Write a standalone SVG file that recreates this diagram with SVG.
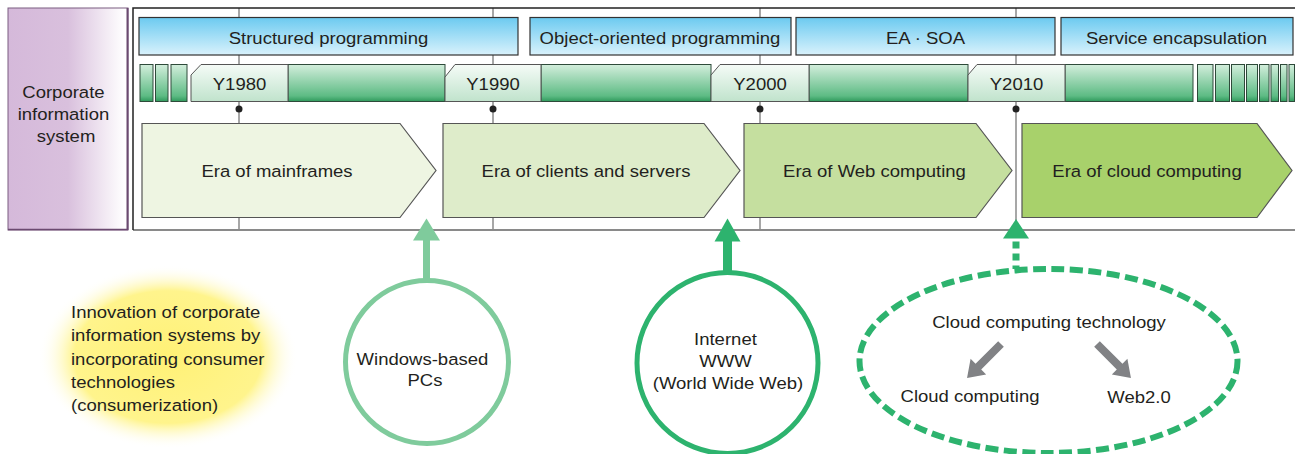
<svg xmlns="http://www.w3.org/2000/svg" width="1295" height="454" viewBox="0 0 1295 454">
  <defs>
    <linearGradient id="gPurple" x1="0" y1="0" x2="1" y2="0">
      <stop offset="0" stop-color="#d5b9da"/>
      <stop offset="0.5" stop-color="#d9c0dd"/>
      <stop offset="0.97" stop-color="#ffffff"/>
    </linearGradient>
    <linearGradient id="gBlue" x1="0" y1="0" x2="0" y2="1">
      <stop offset="0" stop-color="#6ccaf0"/>
      <stop offset="1" stop-color="#d9f2fc"/>
    </linearGradient>
    <linearGradient id="gBar" x1="0" y1="0" x2="0" y2="1">
      <stop offset="0" stop-color="#d3eedc"/>
      <stop offset="0.85" stop-color="#5dbb84"/>
      <stop offset="1" stop-color="#2f9a5c"/>
    </linearGradient>
    <linearGradient id="gTag" x1="0" y1="0" x2="0" y2="1">
      <stop offset="0" stop-color="#f5fbf7"/>
      <stop offset="1" stop-color="#c0e3cc"/>
    </linearGradient>
    <radialGradient id="gGlow" cx="0.5" cy="0.5" r="0.5">
      <stop offset="0" stop-color="#fff176"/>
      <stop offset="0.72" stop-color="#fff48c"/>
      <stop offset="1" stop-color="#ffffff" stop-opacity="0"/>
    </radialGradient>
  </defs>
  <style>
    .t { font-family: "Liberation Sans", Arial, Helvetica, sans-serif; font-size: 17px; fill: #231f20; }
    .mid { text-anchor: middle; }
    .frameTop { stroke: #222; stroke-width: 1.5; fill: none; }
    .yr { stroke: #8a8a8a; stroke-width: 1.5; }
    .blue { fill: url(#gBlue); stroke: #333; stroke-width: 1.2; }
    .seg { fill: url(#gBar); stroke: #2e4a3a; stroke-width: 1; }
    .tag { fill: url(#gTag); stroke: #555; stroke-width: 1; }
    .era { stroke: #555; stroke-width: 1.2; }
    .dot { fill: #222; }
    .grayArrow { fill: #818285; }
  </style>

  <rect width="1295" height="454" fill="#ffffff"/>

  <!-- side label -->
  <g id="side-label">
    <rect x="8" y="8" width="120" height="222" fill="url(#gPurple)" stroke="#7a5d80" stroke-width="1"/>
    <line x1="127.5" y1="8" x2="127.5" y2="230" stroke="#6b4a70" stroke-width="2"/>
    <line x1="8" y1="229.5" x2="128" y2="229.5" stroke="#6b4a70" stroke-width="1.5"/>
    <text class="t mid" transform="translate(66 0) scale(1.09 1)">
      <tspan x="0" y="98">Corporate</tspan>
      <tspan x="0" y="120">information</tspan>
      <tspan x="0" y="142">system</tspan>
    </text>
  </g>

  <!-- timeline frame and year guide lines -->
  <g id="frame">
    <line x1="760" y1="8" x2="760" y2="230" class="yr"/>
    <line x1="239" y1="8" x2="239" y2="230" class="yr"/>
    <line x1="493" y1="8" x2="493" y2="230" class="yr"/>
    <line x1="1016" y1="8" x2="1016" y2="230" class="yr" stroke-width="2"/>
    <line x1="133" y1="230" x2="1295" y2="230" stroke="#8a8a8a" stroke-width="2"/>
    <polyline points="133,230 133,8 1295,8" class="frameTop"/>
  </g>

  <!-- programming paradigm bars -->
  <g id="paradigm-structured">
    <rect x="139" y="17.5" width="379" height="37.5" class="blue"/>
    <text class="t mid" transform="translate(328.5 44) scale(1.09 1)">Structured programming</text>
  </g>
  <g id="paradigm-oop">
    <rect x="530" y="17.5" width="261" height="37.5" class="blue"/>
    <text class="t mid" transform="translate(660 44) scale(1.09 1)">Object-oriented programming</text>
  </g>
  <g id="paradigm-ea-soa">
    <rect x="796" y="17.5" width="259" height="37.5" class="blue"/>
    <text class="t mid" transform="translate(925.5 44) scale(1.09 1)">EA · SOA</text>
  </g>
  <g id="paradigm-service">
    <rect x="1061" y="17.5" width="232" height="37.5" class="blue"/>
    <text class="t mid" transform="translate(1176.5 44) scale(1.09 1)">Service encapsulation</text>
  </g>

  <!-- green year bar -->
  <g id="year-bar">
    <rect x="140" y="64.5" width="13" height="37" class="seg"/>
    <rect x="155.5" y="64.5" width="12.5" height="37" class="seg"/>
    <rect x="171" y="64.5" width="16" height="37" class="seg"/>
    <rect x="288" y="64.5" width="157" height="37" class="seg"/>
    <rect x="541" y="64.5" width="170" height="37" class="seg"/>
    <rect x="809" y="64.5" width="159" height="37" class="seg"/>
    <rect x="1065" y="64.5" width="128" height="37" class="seg"/>
    <rect x="1197.5" y="64.5" width="15.5" height="37" class="seg"/>
    <rect x="1215.5" y="64.5" width="14" height="37" class="seg"/>
    <rect x="1231.5" y="64.5" width="13" height="37" class="seg"/>
    <rect x="1246.5" y="64.5" width="11" height="37" class="seg"/>
    <rect x="1259.5" y="64.5" width="9.5" height="37" class="seg"/>
    <rect x="1271" y="64.5" width="7.5" height="37" class="seg"/>
    <rect x="1280.5" y="64.5" width="6.5" height="37" class="seg"/>
    <rect x="1289" y="64.5" width="5.5" height="37" class="seg"/>
  </g>

  <g id="year-1980">
    <polygon points="191,75 201,64.5 288,64.5 288,101.5 191,101.5" class="tag"/>
    <text class="t mid" transform="translate(239.5 89.5) scale(1.09 1)">Y1980</text>
    <circle cx="239" cy="109" r="3.5" class="dot"/>
  </g>
  <g id="year-1990">
    <polygon points="445,77 455,64.5 541,64.5 541,101.5 445,101.5" class="tag"/>
    <text class="t mid" transform="translate(493 89.5) scale(1.09 1)">Y1990</text>
    <circle cx="493" cy="109" r="3.5" class="dot"/>
  </g>
  <g id="year-2000">
    <polygon points="711,75 720,64.5 809,64.5 809,101.5 711,101.5" class="tag"/>
    <text class="t mid" transform="translate(760 89.5) scale(1.09 1)">Y2000</text>
    <circle cx="760" cy="109" r="3.5" class="dot"/>
  </g>
  <g id="year-2010">
    <polygon points="968,75 977,64.5 1065,64.5 1065,101.5 968,101.5" class="tag"/>
    <text class="t mid" transform="translate(1016.5 89.5) scale(1.09 1)">Y2010</text>
    <circle cx="1016" cy="109" r="3.5" class="dot"/>
  </g>

  <!-- eras -->
  <g id="era-mainframes">
    <polygon points="142,123.5 400,123.5 436,170.5 400,217.5 142,217.5" fill="#eef5e2" class="era"/>
    <text class="t mid" transform="translate(277 176.5) scale(1.09 1)">Era of mainframes</text>
  </g>
  <g id="era-client-server">
    <polygon points="443,123.5 704,123.5 740,170.5 704,217.5 443,217.5" fill="#deecca" class="era"/>
    <text class="t mid" transform="translate(586 176.5) scale(1.09 1)">Era of clients and servers</text>
  </g>
  <g id="era-web">
    <polygon points="744,123.5 976,123.5 1012,170.5 976,217.5 744,217.5" fill="#c5df9f" class="era"/>
    <text class="t mid" transform="translate(874.5 176.5) scale(1.09 1)">Era of Web computing</text>
  </g>
  <g id="era-cloud">
    <polygon points="1022,123.5 1257,123.5 1292,170.5 1257,217.5 1022,217.5" fill="#a8d16b" class="era"/>
    <text class="t mid" transform="translate(1147 176.5) scale(1.09 1)">Era of cloud computing</text>
  </g>

  <!-- consumerization note -->
  <g id="note-consumerization">
    <ellipse cx="168" cy="357" rx="130" ry="92" fill="url(#gGlow)"/>
    <text class="t" transform="translate(71 0) scale(1.09 1)">
      <tspan x="0" y="318">Innovation of corporate</tspan>
      <tspan x="0" y="341.5">information systems by</tspan>
      <tspan x="0" y="365">incorporating consumer</tspan>
      <tspan x="0" y="388">technologies</tspan>
      <tspan x="0" y="411">(consumerization)</tspan>
    </text>
  </g>

  <!-- technology drivers -->
  <g id="tech-windows-pc">
    <circle cx="427" cy="362" r="81.5" fill="#ffffff" stroke="#7fcb9c" stroke-width="5"/>
    <text class="t mid" transform="translate(425 0) scale(1.09 1)">
      <tspan x="0" y="365">Windows-based</tspan>
      <tspan x="0" y="386">PCs</tspan>
    </text>
  </g>
  <g id="tech-internet">
    <circle cx="727.5" cy="363" r="90.5" fill="#ffffff" stroke="#2db36e" stroke-width="5"/>
    <text class="t mid" transform="translate(728 0) scale(1.09 1)">
      <tspan x="0" y="345">Internet</tspan>
      <tspan x="0" y="367.5">WWW</tspan>
      <tspan x="0" y="389">(World Wide Web)</tspan>
    </text>
  </g>
  <g id="tech-cloud">
    <ellipse cx="1048.5" cy="361" rx="189" ry="92" fill="none" stroke="#2db36e" stroke-width="6" stroke-dasharray="13 5.5"/>
    <text class="t mid" transform="translate(1049 328) scale(1.09 1)">Cloud computing technology</text>
    <text class="t mid" transform="translate(970 401.5) scale(1.09 1)">Cloud computing</text>
    <text class="t mid" transform="translate(1139 403) scale(1.09 1)">Web2.0</text>
  </g>

  <!-- connectors -->
  <g id="connectors">
    <rect x="423" y="239" width="7" height="42" fill="#7fcb9c"/>
    <polygon points="426.5,218.5 413,240.5 440,240.5" fill="#7fcb9c"/>
    <rect x="723" y="240" width="9" height="32" fill="#2db36e"/>
    <polygon points="727.5,218.5 714.5,241.5 740.5,241.5" fill="#2db36e"/>
    <line x1="1016" y1="241.5" x2="1016" y2="269" stroke="#2db36e" stroke-width="7" stroke-dasharray="7 5"/>
    <polygon points="1016,219 1003,238.5 1029,238.5" fill="#2db36e"/>
    <polygon class="grayArrow" transform="translate(1001 344) rotate(135)" points="0,-4 32,-4 32,-11 48,0 32,11 32,4 0,4"/>
    <polygon class="grayArrow" transform="translate(1097 344) rotate(45)" points="0,-4 32,-4 32,-11 48,0 32,11 32,4 0,4"/>
  </g>
</svg>
